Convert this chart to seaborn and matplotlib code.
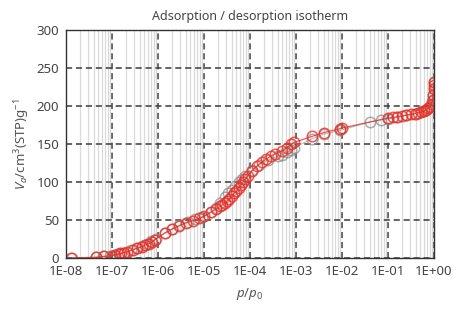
import numpy as np
import pandas as pd
import matplotlib
matplotlib.use("Agg")
import matplotlib.pyplot as plt
import matplotlib.ticker as mticker
import seaborn as sns

# log10(p/p0) and adsorbed volume
ads_logp = [-7.88, -7.35, -7.2, -7.05, -6.95, -6.85, -6.75, -6.6, -6.45, -6.35, -6.25, -6.15,
            -6.05, -5.85, -5.7, -5.55, -5.35, -5.2, -5.05, -4.85, -4.75, -4.65, -4.55, -4.47,
            -4.4, -4.32, -4.25, -4.17, -4.1, -3.95, -3.8, -3.6, -3.4, -3.3, -3.2, -3.1, -3.05,
            -2.65, -2.4, -2.04, -1.4, -1.15, -1.0, -0.8, -0.6, -0.4, -0.25, -0.15, -0.08,
            -0.04, -0.02, -0.01, 0.0]
ads_v = [0, 1, 2, 3, 4, 6, 7, 10, 13, 16, 19, 22,
         25, 33, 38, 43, 48, 51, 54, 61, 66, 73, 80, 85,
         90, 95, 100, 104, 108, 116, 123, 129, 134, 136, 139, 142, 145,
         157, 163, 168, 179, 182, 183, 185, 188, 190, 193, 196, 200,
         206, 214, 224, 232]

des_logp = [-7.9, -7.35, -7.18, -7.0, -6.93, -6.86, -6.8, -6.74, -6.68, -6.55, -6.45, -6.35,
            -6.28, -6.2, -6.13, -6.07, -5.85, -5.7, -5.55, -5.4, -5.25, -5.1, -5.0, -4.85,
            -4.75, -4.65, -4.6, -4.55, -4.5, -4.45, -4.4, -4.35, -4.3, -4.25, -4.2, -4.15,
            -4.1, -4.05, -3.95, -3.85, -3.75, -3.65, -3.55, -3.45, -3.3, -3.2, -3.1, -3.05,
            -2.65, -2.4, -2.05, -2.0, -1.0, -0.9, -0.8, -0.7, -0.6, -0.5, -0.42, -0.35,
            -0.28, -0.22, -0.17, -0.12, -0.08, -0.05, -0.03, -0.02, -0.01, -0.005, 0.0]
des_v = [0, 1, 2, 3, 4, 5, 6, 7, 8, 11, 13, 15,
         17, 19, 21, 24, 33, 38, 42, 46, 49, 52, 55, 60,
         64, 68, 70, 72, 75, 78, 81, 85, 88, 92, 96, 100,
         104, 108, 115, 121, 126, 130, 134, 137, 141, 145, 150, 152,
         160, 165, 170, 171, 184, 185, 186, 187, 188, 189, 190, 191,
         192, 193, 195, 197, 199, 203, 208, 215, 222, 227, 231]

xticks = [1e-8, 1e-7, 1e-6, 1e-5, 1e-4, 1e-3, 1e-2, 1e-1, 1e0]
xtick_labels = ["1E-08", "1E-07", "1E-06", "1E-05", "1E-04", "1E-03", "1E-02", "1E-01", "1E+00"]
yticks = [0, 50, 100, 150, 200, 250, 300]

sns.set_style("white")
plt.rcParams["font.family"] = ["Noto Sans", "DejaVu Sans"]
plt.rcParams["mathtext.fontset"] = "custom"
plt.rcParams["mathtext.rm"] = "Noto Sans"
plt.rcParams["mathtext.it"] = "Noto Sans:italic"

ads = pd.DataFrame({"p": 10.0 ** np.array(ads_logp), "v": ads_v})
des = pd.DataFrame({"p": 10.0 ** np.array(des_logp), "v": des_v})

fig = plt.figure(figsize=(4.53, 3.09), dpi=100)
ax = fig.add_axes([0.146, 0.165, 0.812, 0.738])

ax.set_xscale("log")
ax.set_xlim(1e-8, 1e0)
ax.set_ylim(0, 300)

# grids: light minor verticals, dashed major
ax.xaxis.set_minor_locator(mticker.LogLocator(base=10, subs=np.arange(2, 10), numticks=100))
ax.grid(which="minor", axis="x", color="#dadada", linewidth=0.9)
ax.grid(which="major", axis="both", color="#3a3a3a", linewidth=1.1, linestyle=(0, (4, 2.5)))
ax.set_axisbelow(True)

sns.lineplot(data=ads, x="p", y="v", ax=ax, sort=False, estimator=None, color="#999999",
             linewidth=0.8, marker="o", markersize=7.5, markerfacecolor="none",
             markeredgecolor="#8a8a8a", markeredgewidth=1.1, alpha=0.7)
sns.lineplot(data=des, x="p", y="v", ax=ax, sort=False, estimator=None, color="#e6302a",
             linewidth=0.9, marker="o", markersize=7.5, markerfacecolor="none",
             markeredgecolor="#ea3027", markeredgewidth=1.1, alpha=0.8)

ax.set_xticks(xticks)
ax.set_xticklabels(xtick_labels)
ax.set_yticks(yticks)
ax.tick_params(axis="both", which="both", length=0, labelsize=9.5, colors="#444444", pad=5)

for s in ax.spines.values():
    s.set_color("#333333")
    s.set_linewidth(1.0)

ax.set_title("Adsorption / desorption isotherm", fontsize=9, color="#444444", pad=7)
ax.set_xlabel("$p/p_0$", fontsize=9.5, color="#555555", labelpad=6)
ax.set_ylabel("$V_a$/cm$^3$(STP)g$^{-1}$", fontsize=9.5, color="#555555", labelpad=3)

fig.savefig("out.png", dpi=100)
